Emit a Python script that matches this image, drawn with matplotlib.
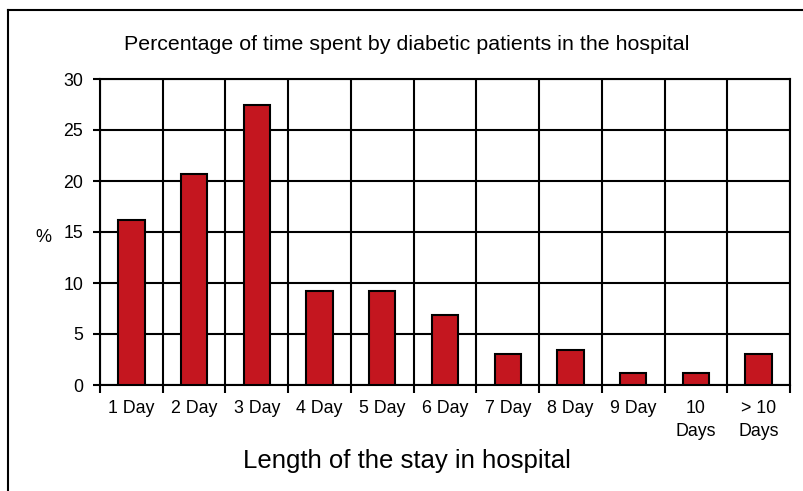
import numpy as np
import matplotlib.pyplot as plt
from matplotlib.lines import Line2D

plt.rcParams['font.family'] = ['Liberation Sans', 'DejaVu Sans']

labels = ['1 Day', '2 Day', '3 Day', '4 Day', '5 Day', '6 Day', '7 Day',
          '8 Day', '9 Day', '10\nDays', '> 10\nDays']
percent = [16.2, 20.7, 27.5, 9.2, 9.2, 6.9, 3.0, 3.4, 1.2, 1.2, 3.0]

fig = plt.figure(figsize=(8.04, 4.91), dpi=100)
ax = fig.add_axes([100 / 804, 1 - 385 / 491, 690 / 804, 306 / 491])

x = np.arange(len(labels))
ax.bar(x, percent, width=0.42, color='#c4161f', edgecolor='black',
       linewidth=1.5, zorder=3)

ax.set_xlim(-0.5, len(labels) - 0.5)
ax.set_ylim(0, 30)
ax.set_yticks(np.arange(0, 31, 5))
ax.set_xticks(x)
ax.set_xticklabels(labels, fontsize=12.8, linespacing=1.45, va='top')
ax.set_xticks(np.arange(-0.5, len(labels)), minor=True)

ax.tick_params(axis='x', which='major', length=0, pad=11)
ax.tick_params(axis='x', which='minor', length=6, width=1.5, direction='out')
ax.tick_params(axis='y', length=5, width=1.5, direction='out', pad=7,
               labelsize=12.8)

ax.grid(axis='y', which='major', color='black', linewidth=1.5, zorder=0)
ax.grid(axis='x', which='minor', color='black', linewidth=1.5, zorder=0)
ax.set_axisbelow(True)
for s in ax.spines.values():
    s.set_linewidth(1.5)
    s.set_color('black')

fig.text(43 / 804, 1 - 238 / 491, '%', fontsize=13, ha='center', va='center')
fig.text(407 / 804, 1 - 45 / 491, 'Percentage of time spent by diabetic patients in the hospital',
         fontsize=15.4, ha='center', va='center')
fig.text(407 / 804, 1 - 461 / 491, 'Length of the stay in hospital',
         fontsize=18.5, ha='center', va='center')

# outer frame (left and top only)
fy = 1 - 10 / 491
fx = 8 / 804
fig.add_artist(Line2D([fx, fx], [0, fy], color='black', linewidth=1.5,
                      transform=fig.transFigure))
fig.add_artist(Line2D([fx, 1], [fy, fy], color='black', linewidth=1.5,
                      transform=fig.transFigure))

fig.savefig('out.png', dpi=100)
